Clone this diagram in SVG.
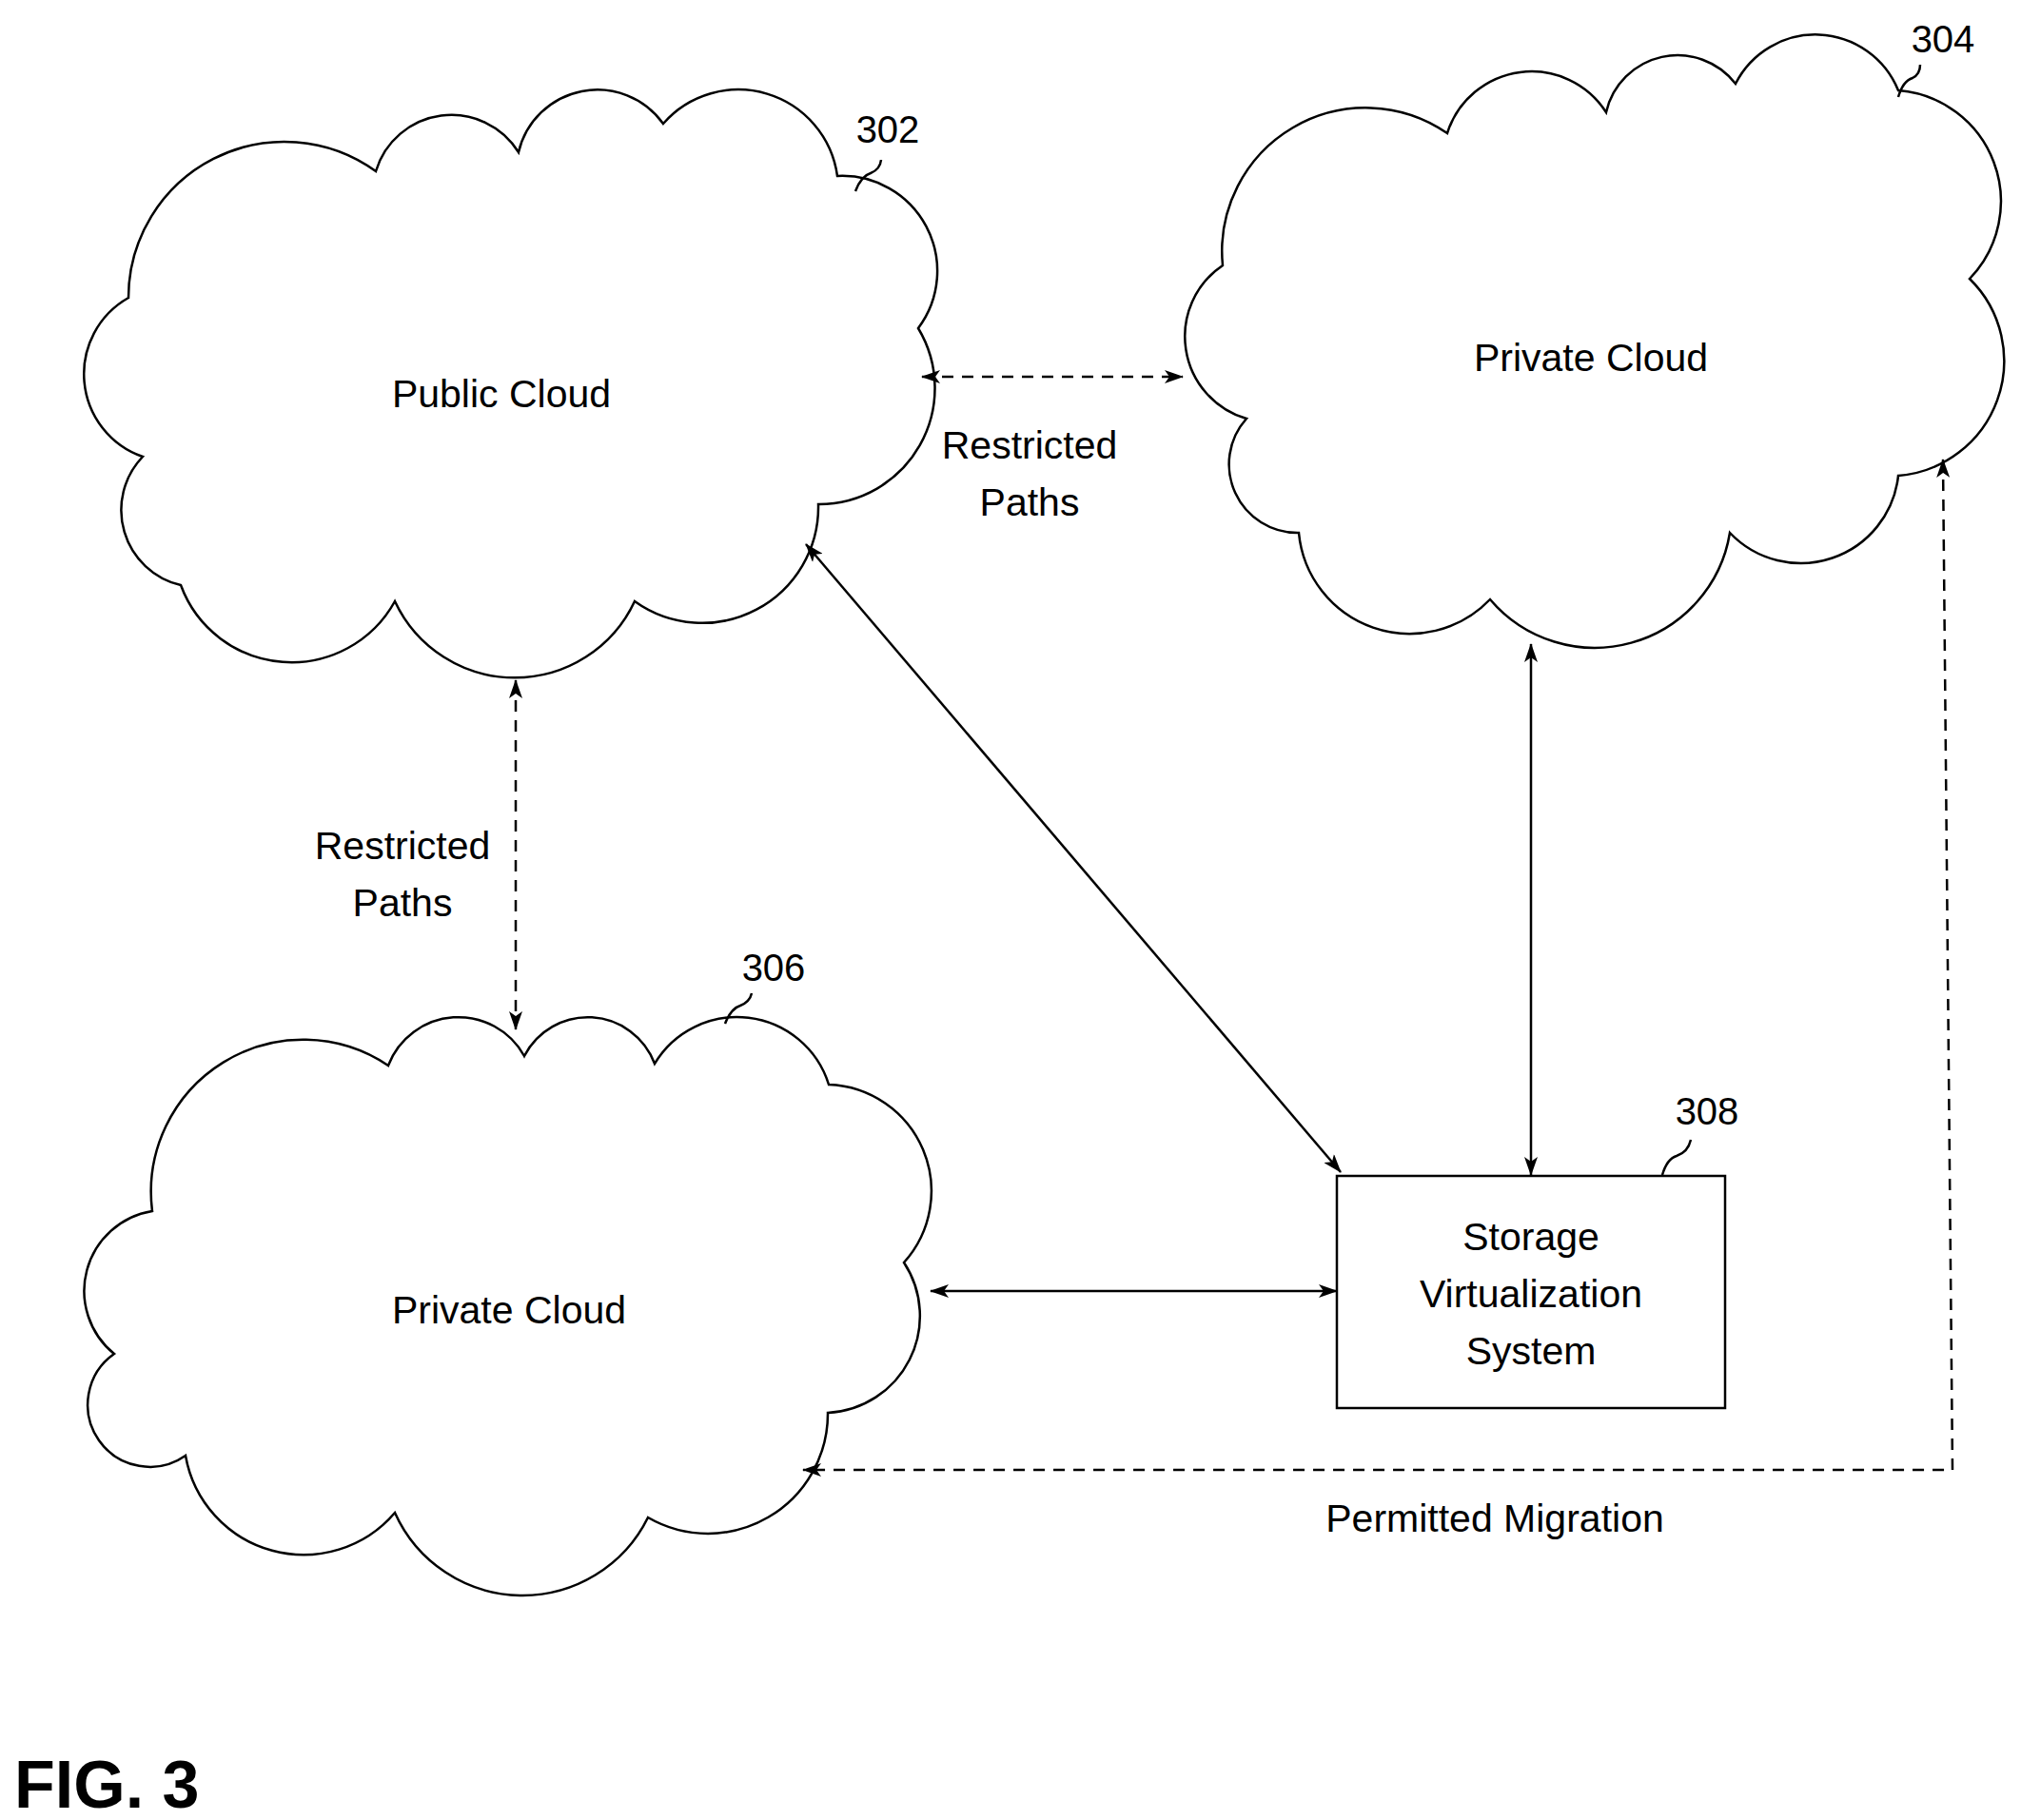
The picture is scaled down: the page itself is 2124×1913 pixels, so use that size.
<svg xmlns="http://www.w3.org/2000/svg" width="2124" height="1913" viewBox="0 0 2124 1913">
<style>
.c{fill:none;stroke:#000;stroke-width:2.5}
.t{font-family:"Liberation Sans",Arial,sans-serif;font-size:41px;fill:#000;text-anchor:middle}
.n{font-size:40px}
.s{fill:none;stroke:#000;stroke-width:2.5}
.d{fill:none;stroke:#000;stroke-width:2.5;stroke-dasharray:12 9}
</style>
<defs>
<marker id="a" viewBox="0 0 20 14" refX="19" refY="7" markerWidth="20" markerHeight="14" markerUnits="userSpaceOnUse" orient="auto-start-reverse"><path d="M0,0 L20,7 L0,14 L5,7 Z" fill="#000"/></marker>
</defs>
<rect width="2124" height="1913" fill="#fff"/>
<g id="cloud302">
<path class="c" d="M150,480 A92,92 0 0 1 135,313 A164,164 0 0 1 395,180 A83,83 0 0 1 545,160 A85,85 0 0 1 697,130 A105,105 0 0 1 880,185 A100,100 0 0 1 965,345 A122,122 0 0 1 860,530 A122,122 0 0 1 667,632 A139,139 0 0 1 415,632 A124,124 0 0 1 190,615 A81,81 0 0 1 150,480 Z"/>
<text class="t" x="527" y="428">Public Cloud</text>
<text class="t n" x="933" y="150">302</text>
<path class="s" d="M899,201 Q905,185 915,182 Q925,178 926,168"/>
</g>
<g id="cloud304">
<path class="c" d="M1310,440 A90,90 0 0 1 1285,279 A151,151 0 0 1 1521,140 A93,93 0 0 1 1688,118 A77,77 0 0 1 1824,88 A94,94 0 0 1 1995,95 A117,117 0 0 1 2070,293 A121,121 0 0 1 1995,500 A103,103 0 0 1 1818,560 A144,144 0 0 1 1566,630 A117,117 0 0 1 1365,560 A72,72 0 0 1 1310,440 Z"/>
<text class="t" x="1672" y="390">Private Cloud</text>
<text class="t n" x="2042" y="55">304</text>
<path class="s" d="M1995,102 Q2000,85 2010,82 Q2018,78 2018,68"/>
</g>
<g id="cloud306">
<path class="c" d="M160,1273 A160,160 0 0 1 408,1120 A79,79 0 0 1 551,1110 A75,75 0 0 1 688,1118 A101,101 0 0 1 871,1140 A112,112 0 0 1 950,1327 A102,102 0 0 1 870,1485 A126,126 0 0 1 681,1595 A147,147 0 0 1 415,1590 A126,126 0 0 1 195,1530 A55,55 0 0 1 120,1423 A85,85 0 0 1 160,1273 Z"/>
<text class="t" x="535" y="1391">Private Cloud</text>
<text class="t n" x="813" y="1031">306</text>
<path class="s" d="M762,1076 Q768,1060 778,1057 Q788,1053 790,1044"/>
</g>
<g id="box308">
<rect class="s" x="1405" y="1236" width="408" height="244"/>
<text class="t" x="1609" y="1314">Storage</text>
<text class="t" x="1609" y="1374">Virtualization</text>
<text class="t" x="1609" y="1434">System</text>
<text class="t n" x="1794" y="1182">308</text>
<path class="s" d="M1747,1235 Q1752,1218 1762,1215 Q1774,1211 1777,1198"/>
</g>
<g id="connectors">
<line class="d" x1="969" y1="396" x2="1243" y2="396" marker-start="url(#a)" marker-end="url(#a)"/>
<line class="d" x1="542" y1="715" x2="542" y2="1082" marker-start="url(#a)" marker-end="url(#a)"/>
<line class="s" x1="847" y1="572" x2="1409" y2="1232" marker-start="url(#a)" marker-end="url(#a)"/>
<line class="s" x1="1609" y1="677" x2="1609" y2="1235" marker-start="url(#a)" marker-end="url(#a)"/>
<line class="s" x1="978" y1="1357" x2="1405" y2="1357" marker-start="url(#a)" marker-end="url(#a)"/>
<polyline class="d" points="2042,483 2052,1545 844,1545" marker-start="url(#a)" marker-end="url(#a)"/>
<text class="t" x="1082" y="482">Restricted</text>
<text class="t" x="1082" y="542">Paths</text>
<text class="t" x="423" y="903">Restricted</text>
<text class="t" x="423" y="963">Paths</text>
<text class="t" x="1571" y="1610">Permitted Migration</text>
</g>
<text x="15" y="1900" style="font-family:'Liberation Sans',Arial,sans-serif;font-weight:bold;font-size:70px">FIG. 3</text>
</svg>
